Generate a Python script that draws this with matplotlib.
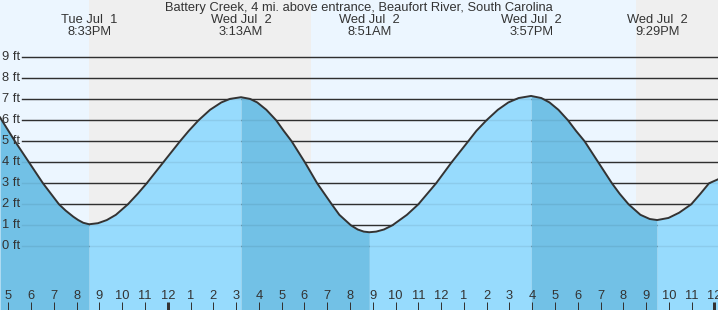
import numpy as np
import matplotlib.pyplot as plt
import matplotlib.transforms as mtransforms

plt.rcParams['font.family'] = ['Liberation Sans', 'DejaVu Sans']

# hours since Tue Jul 1 00:00, tide height in ft
times = [16.636, 17.294, 17.909, 18.523, 19.226, 19.52, 19.853, 20.07,
         20.292, 20.55, 20.936, 21.325, 21.724, 22.25, 22.68, 23.076,
         23.804, 24.537, 24.924, 25.35, 25.857, 26.35, 26.732, 27.217,
         27.611, 27.93, 28.329, 28.76, 29.09, 29.44, 30.02, 30.56,
         31.20, 31.533, 32.04, 32.34, 32.605, 32.85, 33.15, 33.49,
         33.86, 34.50, 35.0, 35.78, 36.46, 37.19, 37.55, 37.99,
         38.49, 38.95, 39.4, 39.95, 40.4, 40.76, 41.15, 41.57,
         41.92, 42.30, 42.90, 43.50, 43.84, 44.23, 44.75, 45.16,
         45.483, 45.98, 46.45, 46.98, 47.38, 47.76, 48.155]
heights = [6.14, 5.0, 4.0, 3.0, 2.0, 1.7, 1.41, 1.25,
           1.12, 1.05, 1.1, 1.25, 1.5, 2.0, 2.5, 3.0,
           4.0, 5.0, 5.5, 6.0, 6.5, 6.85, 7.02, 7.1,
           7.02, 6.85, 6.5, 6.0, 5.5, 5.0, 4.0, 3.0,
           2.0, 1.5, 1.0, 0.8, 0.7, 0.67, 0.7, 0.8,
           1.0, 1.5, 2.0, 3.0, 4.0, 5.0, 5.5, 6.0,
           6.5, 6.85, 7.06, 7.16, 7.06, 6.85, 6.5, 6.0,
           5.5, 5.0, 4.0, 3.0, 2.5, 2.0, 1.5, 1.3,
           1.25, 1.35, 1.6, 2.0, 2.5, 3.0, 3.19]

# high / low events
event_times = [20.55, 27.217, 32.85, 39.95, 45.483]
event_days = ['Tue Jul  1', 'Wed Jul  2', 'Wed Jul  2', 'Wed Jul  2', 'Wed Jul  2']
event_clock = ['8:33PM', '3:13AM', '8:51AM', '3:57PM', '9:29PM']

# sunset -> sunrise
night_spans = [(20.556, 30.29), (44.57, 48.3)]

ft_levels = list(range(0, 10))
hour_ticks = list(range(17, 49))
hour_labels = [str((h - 1) % 12 + 1) for h in hour_ticks]

title = 'Battery Creek, 4 mi. above entrance, Beaufort River, South Carolina'

x0, x1 = 16.636, 48.155
y0, y1 = -3.033, 11.729

sky = '#ecf6ff'
night = '#efefef'
flood = '#97dbfd'
ebb = '#72c1e6'
txt = '#333333'
fs = 9.3

fig = plt.figure(figsize=(7.18, 3.10), dpi=100)
ax = fig.add_axes([0, 0, 1, 1])
ax.set_xlim(x0, x1)
ax.set_ylim(y0, y1)
ax.axis('off')
ax.add_patch(plt.Rectangle((x0, y0), x1 - x0, y1 - y0, color=sky, zorder=0))
for a, b in night_spans:
    ax.axvspan(a, b, color=night, zorder=0.5, lw=0)

# ft grid lines
line_start = 22 / 718.0
for lv in ft_levels:
    ax.axhline(lv, xmin=line_start, color=txt, lw=1.0, zorder=1)

t = np.array(times)
h = np.array(heights)
bounds = [times[0]] + event_times + [times[-1]]
for i in range(len(bounds) - 1):
    a, b = bounds[i], bounds[i + 1]
    m = (t >= a - 1e-6) & (t <= b + 1e-6)
    col = ebb if i % 2 == 0 else flood
    ax.fill_between(t[m], y0 - 1, h[m], color=col, lw=0, zorder=2)

# faint lines through the water
for lv in ft_levels:
    ax.axhline(lv, xmin=line_start, color='black', alpha=0.07, lw=1.0, zorder=2.5)

ax.plot(t, h, color=txt, lw=1.4, zorder=3, solid_joinstyle='round')

for lv in ft_levels:
    ax.text(16.636 + 2.5 / 22.78, lv, '%d ft' % lv, ha='left', va='center',
            fontsize=fs, color=txt, zorder=5)

# header
tr = mtransforms.blended_transform_factory(ax.transData, ax.transAxes)
ax.text(0.5, 1 - 7.5 / 310, title, transform=ax.transAxes, ha='center', va='center',
        fontsize=fs, color=txt, zorder=5)
for et, d, c in zip(event_times, event_days, event_clock):
    ax.text(et, 1 - 20 / 310, d, transform=tr, ha='center', va='center', fontsize=fs, color=txt, zorder=5)
    ax.text(et, 1 - 32 / 310, c, transform=tr, ha='center', va='center', fontsize=fs, color=txt, zorder=5)

# hour ticks along the bottom
for hr, lab in zip(hour_ticks, hour_labels):
    w = 3.0 if hr % 24 == 0 else 1.0
    ax.plot([hr, hr], [0, 8 / 310], transform=tr, color=txt, lw=w * 0.72,
            solid_capstyle='butt', zorder=5, clip_on=False)
    ax.text(hr, 14 / 310, lab, transform=tr, ha='center', va='center', fontsize=fs, color=txt, zorder=5)

fig.savefig('out.png', dpi=100)
